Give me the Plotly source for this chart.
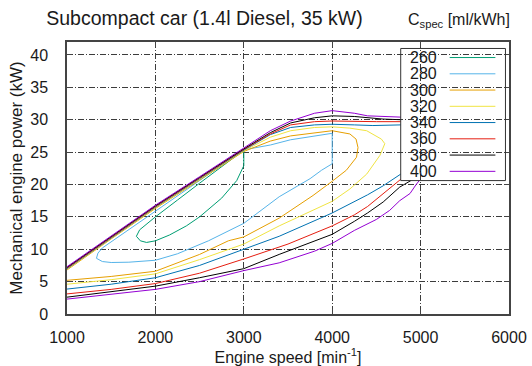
import plotly.graph_objects as go

# ---------------- data ----------------
levels = [260, 280, 300, 320, 340, 360, 380, 400]
colors = ["#009e73", "#56b4e9", "#e69f00", "#f0e442", "#0072b2", "#e51e10", "#000000", "#9400d3"]

x_ticks = [1000, 2000, 3000, 4000, 5000, 6000]
y_ticks = [0, 5, 10, 15, 20, 25, 30, 35, 40]

# 260 ml/kWh (closed island)
c260_x = [1785, 1830, 1900, 2000, 2160, 2350, 2500, 2600, 2750, 2920, 3000, 3000, 2750, 2500, 2250, 2000, 1822, 1785]
c260_y = [12.0, 11.3, 11.05, 11.3, 12.2, 13.6, 15.0, 16.2, 17.9, 20.6, 22.9, 25.3, 22.8, 20.2, 17.6, 15.0, 13.0, 12.0]

# 280 ml/kWh (closed island)
c280_x = [1333, 1400, 1500, 1700, 2000, 2250, 2600, 3000, 3400, 3750, 3880, 4000, 4000, 3792, 3528, 3302, 3000, 2500, 2000, 1600, 1400, 1350, 1333]
c280_y = [8.6, 8.1, 7.95, 8.0, 8.3, 9.3, 11.3, 14.0, 18.1, 20.9, 22.2, 23.2, 27.9, 27.5, 26.9, 26.1, 25.35, 20.6, 15.9, 12.0, 10.2, 9.4, 8.6]

# 300 ml/kWh
c300_x = [1000, 1500, 2000, 2500, 2825, 3000, 3400, 3783, 4000, 4160, 4275, 4292, 4270, 4200, 4000, 3800, 3530, 3300, 3000, 2500, 2000, 1500, 1000]
c300_y = [5.2, 5.8, 6.6, 9.2, 11.3, 11.9, 14.8, 18.3, 20.5, 22.2, 24.2, 25.7, 27.0, 27.8, 28.3, 28.0, 27.5, 26.7, 25.1, 20.7, 16.3, 11.6, 6.8]

# 320 ml/kWh
c320_x = [1000, 1500, 2000, 2500, 3000, 3400, 4000, 4200, 4390, 4540, 4595, 4557, 4390, 4200, 4000, 3800, 3530, 3300, 3000, 2500, 2000, 1500, 1000]
c320_y = [4.6, 5.3, 6.2, 8.4, 10.8, 13.6, 17.4, 19.3, 21.6, 24.5, 26.3, 27.0, 28.3, 28.7, 28.9, 28.8, 28.3, 27.3, 25.2, 20.8, 16.4, 11.7, 6.9]

# 340 ml/kWh (lower branch, gap, upper branch; the rest is hidden by the key box)
c340_x = [1000, 1500, 2000, 2500, 3000, 3400, 4000, 4250, 4400, 4577, 4700, 4775, None,
          1000, 1500, 2000, 2500, 3000, 3300, 3530, 3800, 4000, 4250, 4460, 4775]
c340_y = [3.85, 4.6, 5.6, 7.5, 10.0, 12.0, 15.6, 17.3, 18.4, 19.8, 20.9, 21.6, None,
          7.0, 11.8, 16.5, 20.9, 25.3, 27.7, 28.8, 29.2, 29.3, 29.2, 29.1, 29.2]

# 360 ml/kWh
c360_x = [1000, 1500, 2000, 2500, 3000, 3500, 4000, 4250, 4400, 4577, 4700, 4775, None,
          1000, 1500, 2000, 2500, 3000, 3300, 3530, 3800, 4000, 4500, 4775]
c360_y = [3.1, 3.8, 4.7, 6.3, 8.5, 10.8, 13.6, 15.3, 16.6, 18.6, 19.9, 20.8, None,
          7.1, 11.9, 16.6, 21.0, 25.4, 27.8, 29.2, 29.7, 29.8, 29.7, 29.7]

# 380 ml/kWh
c380_x = [1000, 1500, 2000, 2500, 3000, 3400, 4000, 4250, 4400, 4577, 4764, 4890, None,
          1000, 1500, 2000, 2500, 3000, 3300, 3530, 3800, 4000, 4250, 4575, 4775]
c380_y = [2.6, 3.4, 4.3, 5.6, 7.0, 9.2, 12.3, 14.3, 15.6, 17.3, 19.6, 20.6, None,
          7.2, 12.0, 16.7, 21.1, 25.5, 28.0, 29.5, 30.3, 30.6, 30.5, 30.1, 30.0]

# 400 ml/kWh
c400_x = [1000, 1500, 2000, 2500, 3000, 3400, 3800, 4000, 4250, 4500, 4650, 4764, 4880, 4950, 4985, None,
          1000, 1500, 2000, 2500, 3000, 3300, 3530, 3800, 4000, 4150, 4250, 4400, 4600, 4775]
c400_y = [2.3, 3.0, 3.8, 5.0, 6.7, 7.9, 9.7, 10.9, 12.9, 14.6, 16.0, 17.5, 18.6, 20.0, 20.6, None,
          7.3, 12.1, 16.8, 21.2, 25.6, 28.3, 29.8, 31.0, 31.4, 31.2, 31.0, 30.6, 30.5, 30.4]

contours_x = [c260_x, c280_x, c300_x, c320_x, c340_x, c360_x, c380_x, c400_x]
contours_y = [c260_y, c280_y, c300_y, c320_y, c340_y, c360_y, c380_y, c400_y]

# ---------------- figure ----------------
FONT = "Liberation Sans, Arial, Helvetica, sans-serif"
TXT = "#1a1a1a"

fig = go.Figure()
for lv, col, xs, ys in zip(levels, colors, contours_x, contours_y):
    fig.add_trace(go.Scatter(x=xs, y=ys, mode="lines", name=str(lv),
                             line=dict(color=col, width=1), showlegend=False,
                             connectgaps=False, hoverinfo="skip"))

# key box (gnuplot style: label left, sample line right), in data coordinates
key_x0, key_x1, key_y0, key_y1 = 4775, 5960, 20.6, 41.0
fig.add_shape(type="rect", xref="x", yref="y", x0=key_x0, x1=key_x1, y0=key_y0, y1=key_y1,
              line=dict(color="#333333", width=1), fillcolor="rgba(0,0,0,0)", layer="above")
key_top = 39.6
key_step = 2.51
for i, (lv, col) in enumerate(zip(levels, colors)):
    yy = key_top - i * key_step
    fig.add_shape(type="line", xref="x", yref="y", x0=5329, x1=5846, y0=yy, y1=yy,
                  line=dict(color=col, width=1), layer="above")
    fig.add_annotation(x=5205, y=yy, xref="x", yref="y", text=str(lv), showarrow=False,
                       xanchor="right", yanchor="middle", font=dict(size=16, color=TXT, family=FONT))

# key title, placed above the key box (paper coords relative to the plot area)
fig.add_annotation(x=(459 - 67) / 442, y=(314 - 20) / 272, xref="paper", yref="paper",
                   text="C<sub>spec</sub> [ml/kWh]",
                   showarrow=False, xanchor="center", yanchor="middle",
                   font=dict(size=16, color=TXT, family=FONT))

grid = dict(showgrid=True, gridcolor="#3c3c3c", gridwidth=1, griddash="6px,2px,1px,2px",
            showline=True, mirror="ticks", linecolor="#444444", linewidth=1.5,
            ticks="inside", ticklen=5, tickcolor="#444444", zeroline=False,
            tickfont=dict(size=16, color=TXT, family=FONT))

fig.update_xaxes(range=[1000, 6000], tickvals=x_ticks, ticktext=[str(v) for v in x_ticks],
                 title=dict(text="Engine speed [min<sup>-1</sup>]", font=dict(size=16, color=TXT, family=FONT), standoff=6),
                 ticklabelstandoff=8, **grid)
fig.update_yaxes(range=[0, 42], tickvals=y_ticks, ticktext=[str(v) for v in y_ticks],
                 title=dict(text="Mechanical engine power (kW)", font=dict(size=17, color=TXT, family=FONT), standoff=3),
                 ticklabelstandoff=14, **grid)

fig.update_layout(
    width=532, height=366,
    margin=dict(l=67, r=23, t=42, b=52, autoexpand=False),
    paper_bgcolor="white", plot_bgcolor="white",
    title=dict(text="Subcompact car (1.4l Diesel, 35 kW)", x=204.5 / 532, xanchor="center",
               y=1 - 18 / 366, yanchor="middle", font=dict(size=19.5, color=TXT, family=FONT)),
    showlegend=False,
    font=dict(family=FONT, color=TXT),
)

fig.write_html("out.html")
